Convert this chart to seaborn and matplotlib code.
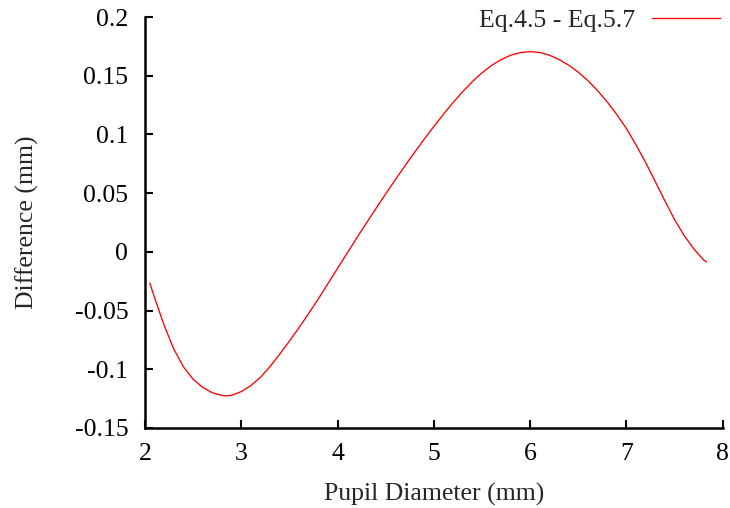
import pandas as pd
import seaborn as sns
import matplotlib
matplotlib.use("Agg")
import matplotlib.pyplot as plt
from matplotlib.ticker import FuncFormatter

# values
pupil_mm = [2.05, 2.1, 2.2, 2.3, 2.4, 2.5, 2.6, 2.7, 2.8, 2.85, 2.9, 3.0, 3.1, 3.2,
            3.3, 3.4, 3.5, 3.6, 3.7, 3.8, 3.9, 4.0, 4.1, 4.2, 4.3, 4.4, 4.5, 4.6,
            4.7, 4.8, 4.9, 5.0, 5.1, 5.2, 5.3, 5.4, 5.5, 5.6, 5.7, 5.8, 5.9, 6.0,
            6.1, 6.2, 6.3, 6.4, 6.5, 6.6, 6.7, 6.8, 6.9, 7.0, 7.1, 7.2, 7.3, 7.4,
            7.5, 7.6, 7.7, 7.8, 7.83]
diff_mm = [-0.0266, -0.0392, -0.0628, -0.0830, -0.0980, -0.1085, -0.1155, -0.1200,
           -0.1223, -0.1226, -0.1222, -0.1190, -0.1138, -0.1068, -0.0975, -0.0870,
           -0.0760, -0.0645, -0.0525, -0.0400, -0.0270, -0.0140, -0.0010, 0.0119,
           0.0246, 0.0371, 0.0494, 0.0615, 0.0733, 0.0848, 0.0960, 0.1068, 0.1172,
           0.1272, 0.1365, 0.1450, 0.1525, 0.1588, 0.1638, 0.1675, 0.1697, 0.1705,
           0.1698, 0.1675, 0.1638, 0.1590, 0.1530, 0.1458, 0.1373, 0.1277, 0.1170,
           0.1050, 0.0910, 0.0760, 0.0598, 0.0433, 0.0275, 0.0138, 0.0025, -0.0068,
           -0.0085]
series_label = "Eq.4.5 - Eq.5.7"
x_ticks = [2, 3, 4, 5, 6, 7, 8]
y_ticks = [-0.15, -0.1, -0.05, 0, 0.05, 0.1, 0.15, 0.2]

df = pd.DataFrame({"Pupil Diameter (mm)": pupil_mm, "Difference (mm)": diff_mm, "curve": series_label})

sns.set_style("ticks")
plt.rcParams['font.family'] = ['Liberation Serif', 'DejaVu Serif']
plt.rcParams['font.size'] = 18.5
plt.rcParams['axes.unicode_minus'] = False

fig = plt.figure(figsize=(7.3, 5.08), dpi=100)
ax = fig.add_axes([0.1986, 0.1575, 0.7914, 0.809])

sns.lineplot(data=df, x="Pupil Diameter (mm)", y="Difference (mm)", hue="curve",
             palette=["#ff0000"], linewidth=0.95, ax=ax, sort=False)

ax.set_xlim(2, 8)
ax.set_ylim(-0.15, 0.2)
ax.set_xticks(x_ticks)
ax.set_yticks(y_ticks)
ax.yaxis.set_major_formatter(FuncFormatter(lambda v, p: "%g" % round(v, 4)))
ax.tick_params(direction="in", length=6, width=1.5, labelsize=18.5, colors="black")
ax.tick_params(axis="y", pad=12)
ax.tick_params(axis="x", pad=11)
for side in ["top", "right"]:
    ax.spines[side].set_visible(False)
for side in ["left", "bottom"]:
    ax.spines[side].set_linewidth(1.8)
    ax.spines[side].set_color("black")
ax.set_xlabel("Pupil Diameter (mm)", fontsize=18.5, labelpad=13)
ax.set_ylabel("Difference (mm)", fontsize=18.5, labelpad=26)

ax.legend(loc="upper right", frameon=False, markerfirst=False, handlelength=2.65,
          handletextpad=0.66, borderpad=0.0, fontsize=18.5, borderaxespad=0.0,
          bbox_to_anchor=(0.9948, 1.02))

fig.savefig("out.png", dpi=100)
